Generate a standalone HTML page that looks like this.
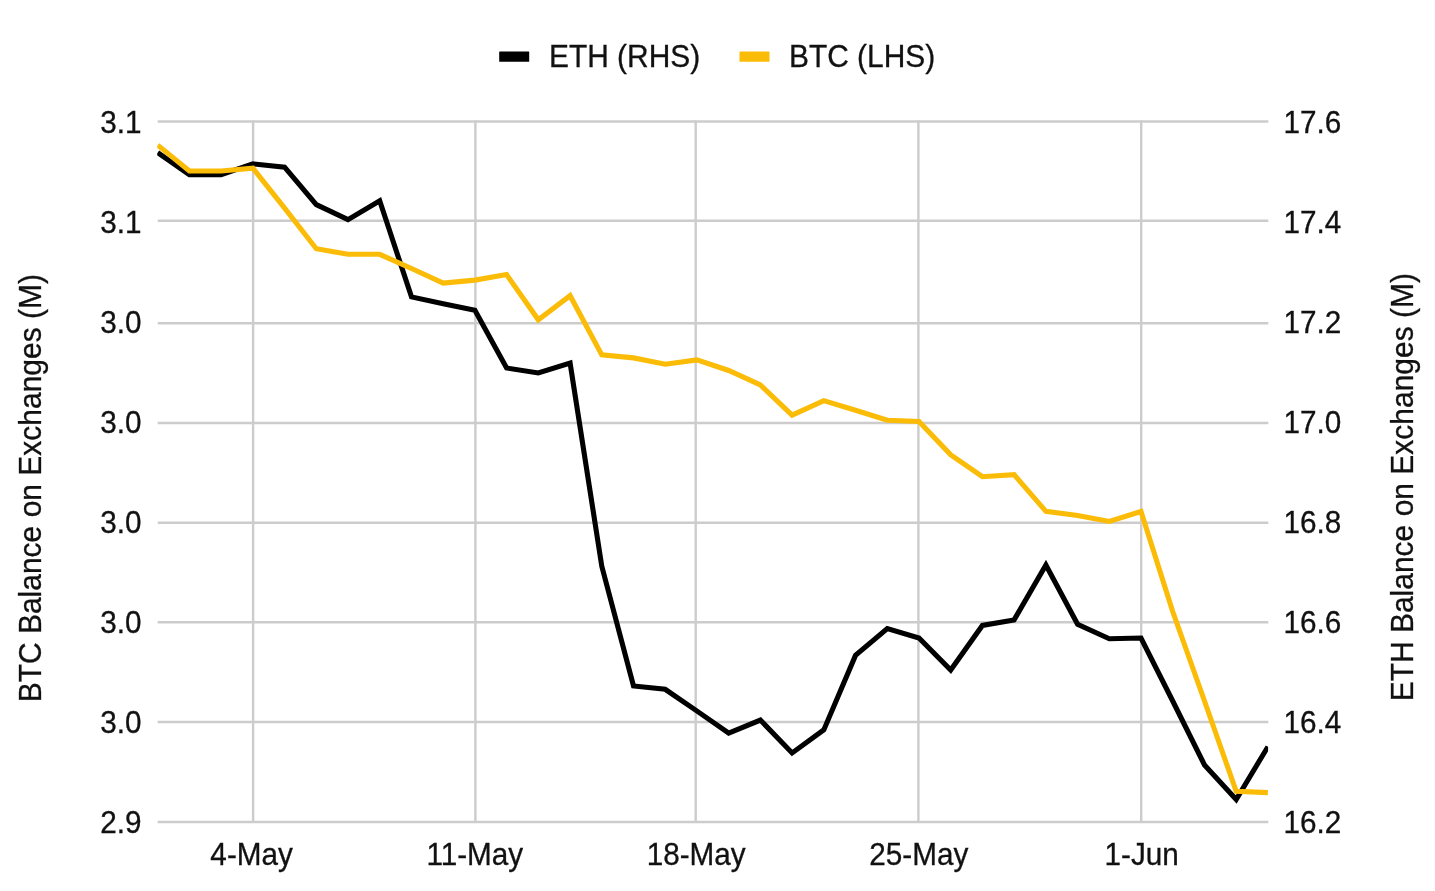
<!DOCTYPE html>
<html lang="en"><head><meta charset="utf-8"><title>BTC and ETH Balance on Exchanges</title>
<style>
html,body{margin:0;padding:0;background:#fff;}
body{width:1435px;height:891px;overflow:hidden;}
svg{display:block;}
text{font-family:"Liberation Sans",Arial,sans-serif;font-size:29.7px;fill:#111;stroke:#111;stroke-width:0.3px;}
text.b{font-size:29.9px;letter-spacing:0;}
text.t{font-size:30px;}
</style></head><body>
<svg width="1435" height="891" viewBox="0 0 1435 891">
<rect width="1435" height="891" fill="#fff"/>
<g stroke="#cccccc" stroke-width="2.4" fill="none">
<line x1="157.7" x2="1268.3" y1="121.5" y2="121.5"/>
<line x1="157.7" x2="1268.3" y1="220.8" y2="220.8"/>
<line x1="157.7" x2="1268.3" y1="323.3" y2="323.3"/>
<line x1="157.7" x2="1268.3" y1="423.0" y2="423.0"/>
<line x1="157.7" x2="1268.3" y1="522.8" y2="522.8"/>
<line x1="157.7" x2="1268.3" y1="622.3" y2="622.3"/>
<line x1="157.7" x2="1268.3" y1="722.0" y2="722.0"/>
<line x1="157.7" x2="1268.3" y1="822.0" y2="822.0"/>
<line x1="253.1" x2="253.1" y1="120.5" y2="822.8"/>
<line x1="475.4" x2="475.4" y1="120.5" y2="822.8"/>
<line x1="695.7" x2="695.7" y1="120.5" y2="822.8"/>
<line x1="918.4" x2="918.4" y1="120.5" y2="822.8"/>
<line x1="1141.2" x2="1141.2" y1="120.5" y2="822.8"/>
</g>
<clipPath id="pc"><rect x="157.2" y="100" width="1110.9" height="740"/></clipPath>
<g clip-path="url(#pc)" fill="none" stroke-width="5.1" stroke-linejoin="miter" stroke-linecap="butt">
<polyline stroke="#000000" points="157.7,152.6 189.4,174.7 221.1,174.7 252.9,163.9 284.6,167.2 316.3,204.6 348.0,219.6 379.7,200.8 411.5,296.9 443.2,303.7 474.9,310.2 506.6,368.0 538.3,373.0 570.1,363.0 601.8,566.3 633.5,686.0 665.2,689.3 696.9,711.0 728.7,733.2 760.4,720.1 792.1,753.0 823.8,729.9 855.5,655.4 887.3,628.6 919.0,638.0 950.7,670.1 982.4,625.4 1014.1,619.9 1045.9,565.0 1077.6,624.2 1109.3,638.7 1141.0,638.0 1172.7,701.0 1204.5,765.0 1236.2,799.5 1267.9,746.7"/>
<polyline stroke="#fbbc07" points="157.7,145.1 189.4,171.0 221.1,171.0 252.9,168.2 284.6,208.1 316.3,248.7 348.0,254.3 379.7,254.3 411.5,268.5 443.2,283.1 474.9,280.1 506.6,274.6 538.3,319.8 570.1,295.7 601.8,354.9 633.5,357.9 665.2,364.2 696.9,359.9 728.7,370.5 760.4,385.0 792.1,415.1 823.8,400.6 855.5,410.2 887.3,420.2 919.0,421.5 950.7,454.8 982.4,476.7 1014.1,474.7 1045.9,511.3 1077.6,515.5 1109.3,521.5 1141.0,511.5 1172.7,611.5 1204.5,701.0 1236.2,791.3 1267.9,792.6"/>
</g>
<g text-anchor="end">
<text transform="translate(141.5,132.5) scale(1,1.04)">3.1</text>
<text transform="translate(141.5,232.5) scale(1,1.04)">3.1</text>
<text transform="translate(141.5,332.5) scale(1,1.04)">3.0</text>
<text transform="translate(141.5,432.5) scale(1,1.04)">3.0</text>
<text transform="translate(141.5,532.5) scale(1,1.04)">3.0</text>
<text transform="translate(141.5,632.5) scale(1,1.04)">3.0</text>
<text transform="translate(141.5,732.5) scale(1,1.04)">3.0</text>
<text transform="translate(141.5,832.5) scale(1,1.04)">2.9</text>
</g><g text-anchor="start">
<text transform="translate(1283.5,132.5) scale(1,1.04)">17.6</text>
<text transform="translate(1283.5,232.5) scale(1,1.04)">17.4</text>
<text transform="translate(1283.5,332.5) scale(1,1.04)">17.2</text>
<text transform="translate(1283.5,432.5) scale(1,1.04)">17.0</text>
<text transform="translate(1283.5,532.5) scale(1,1.04)">16.8</text>
<text transform="translate(1283.5,632.5) scale(1,1.04)">16.6</text>
<text transform="translate(1283.5,732.5) scale(1,1.04)">16.4</text>
<text transform="translate(1283.5,832.5) scale(1,1.04)">16.2</text>
</g><g text-anchor="middle">
<text transform="translate(251.6,864.7) scale(1,1.04)">4-May</text>
<text transform="translate(474.8,864.7) scale(1,1.04)">11-May</text>
<text transform="translate(696.2,864.7) scale(1,1.04)">18-May</text>
<text transform="translate(918.8,864.7) scale(1,1.04)">25-May</text>
<text transform="translate(1141.7,864.7) scale(1,1.04)">1-Jun</text>
</g>
<rect x="499.2" y="51.4" width="30" height="10.4" rx="0.5" fill="#000"/>
<text class="b" transform="translate(549,66.6) scale(1,1.045)">ETH (RHS)</text>
<rect x="739.5" y="51.4" width="30" height="10.4" rx="0.5" fill="#fbbc07"/>
<text class="b" transform="translate(789,66.6) scale(1,1.045)">BTC (LHS)</text>
<text class="b t" transform="translate(40.9,488.2) rotate(-90) scale(1,1.035)" text-anchor="middle">BTC Balance on Exchanges (M)</text>
<text class="b t" transform="translate(1413.4,487.2) rotate(-90) scale(1,1.035)" text-anchor="middle">ETH Balance on Exchanges (M)</text>
</svg></body></html>
